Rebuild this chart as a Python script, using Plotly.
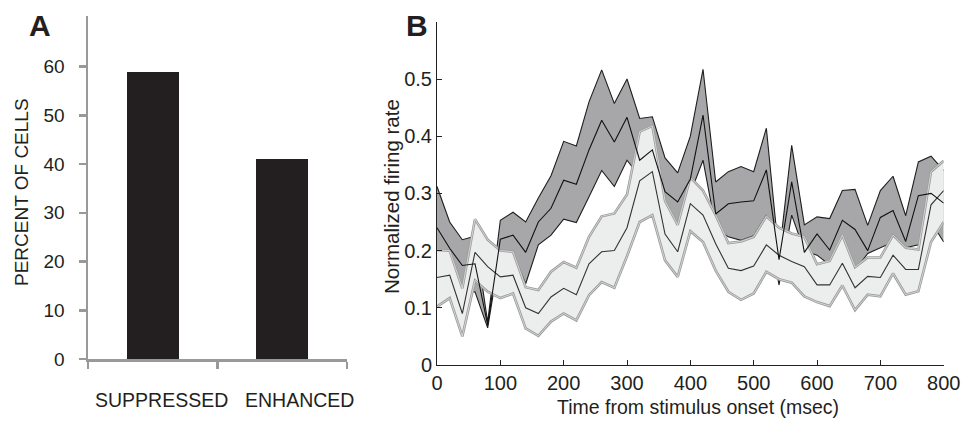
import plotly.graph_objects as go

# ---------------- Panel A data ----------------
categories = ["SUPPRESSED", "ENHANCED"]
cat_pos = [0.5, 1.5]
percent_cells = [59, 41]

# ---------------- Panel B data ----------------
time_ms = list(range(0, 801, 20))

dark_upper = [0.312, 0.25, 0.219, 0.225, 0.075, 0.253, 0.267, 0.25, 0.292, 0.331,
              0.391, 0.383, 0.46, 0.516, 0.457, 0.5, 0.431, 0.434, 0.362, 0.336,
              0.4, 0.517, 0.32, 0.338, 0.347, 0.338, 0.414, 0.19, 0.384, 0.245,
              0.259, 0.256, 0.305, 0.307, 0.244, 0.305, 0.33, 0.261, 0.355, 0.365, 0.34]
dark_mean = [0.24, 0.204, 0.174, 0.177, 0.07, 0.22, 0.227, 0.197, 0.25, 0.274,
             0.323, 0.316, 0.376, 0.428, 0.39, 0.433, 0.358, 0.376, 0.303, 0.285,
             0.325, 0.437, 0.264, 0.282, 0.285, 0.287, 0.341, 0.184, 0.32, 0.197,
             0.229, 0.201, 0.253, 0.237, 0.2, 0.258, 0.27, 0.216, 0.296, 0.3, 0.283]
dark_lower = [0.2, 0.19, 0.125, 0.128, 0.065, 0.2, 0.195, 0.142, 0.21, 0.227,
              0.255, 0.249, 0.294, 0.34, 0.312, 0.358, 0.33, 0.33, 0.25, 0.23,
              0.3, 0.358, 0.24, 0.224, 0.218, 0.226, 0.262, 0.14, 0.262, 0.2,
              0.192, 0.175, 0.2, 0.165, 0.195, 0.205, 0.215, 0.205, 0.21, 0.25, 0.215]

light_upper = [0.201, 0.2, 0.134, 0.255, 0.219, 0.2, 0.198, 0.136, 0.131, 0.163,
               0.18, 0.17, 0.224, 0.26, 0.265, 0.298, 0.408, 0.418, 0.287, 0.245,
               0.328, 0.305, 0.262, 0.213, 0.216, 0.224, 0.26, 0.24, 0.23, 0.224,
               0.176, 0.182, 0.227, 0.171, 0.188, 0.188, 0.227, 0.205, 0.202, 0.338, 0.357]
light_mean = [0.153, 0.157, 0.09, 0.197, 0.172, 0.154, 0.157, 0.1, 0.09, 0.119,
              0.134, 0.123, 0.177, 0.198, 0.2, 0.24, 0.322, 0.338, 0.229, 0.198,
              0.282, 0.262, 0.212, 0.169, 0.165, 0.173, 0.21, 0.192, 0.181, 0.172,
              0.14, 0.14, 0.178, 0.135, 0.155, 0.153, 0.192, 0.167, 0.167, 0.28, 0.305]
light_lower = [0.102, 0.117, 0.05, 0.148, 0.128, 0.117, 0.125, 0.064, 0.051, 0.076,
               0.09, 0.078, 0.122, 0.145, 0.135, 0.19, 0.25, 0.262, 0.183, 0.154,
               0.234, 0.215, 0.165, 0.128, 0.114, 0.125, 0.163, 0.15, 0.144, 0.12,
               0.11, 0.103, 0.139, 0.096, 0.123, 0.12, 0.16, 0.123, 0.129, 0.215, 0.25]

a_yticks = [0, 10, 20, 30, 40, 50, 60]
b_xticks = [0, 100, 200, 300, 400, 500, 600, 700, 800]
b_yticks = [0, 0.1, 0.2, 0.3, 0.4, 0.5]
b_yticklabels = ["0", "0.1", "0.2", "0.3", "0.4", "0.5"]

FONT = "Liberation Sans, Arial, sans-serif"
TXT = "#231f20"
W, H = 965, 422

fig = go.Figure()

# Panel A bars
fig.add_trace(go.Bar(x=cat_pos, y=percent_cells, width=0.4,
                     marker=dict(color=TXT, line=dict(width=0)),
                     xaxis="x", yaxis="y", showlegend=False, hoverinfo="skip"))

# Panel B: dark band
fig.add_trace(go.Scatter(x=time_ms + time_ms[::-1], y=dark_upper + dark_lower[::-1],
                         fill="toself", fillcolor="#a7a7aa", mode="lines",
                         line=dict(width=0), xaxis="x2", yaxis="y2",
                         showlegend=False, hoverinfo="skip"))
for series in (dark_upper, dark_lower):
    fig.add_trace(go.Scatter(x=time_ms, y=series, mode="lines",
                             line=dict(color="#1e1e1e", width=1.1),
                             xaxis="x2", yaxis="y2", showlegend=False, hoverinfo="skip"))

# Panel B: light band (drawn over the dark one)
fig.add_trace(go.Scatter(x=time_ms + time_ms[::-1], y=light_upper + light_lower[::-1],
                         fill="toself", fillcolor="#eceeed", mode="lines",
                         line=dict(width=0), xaxis="x2", yaxis="y2",
                         showlegend=False, hoverinfo="skip"))
for series in (light_upper, light_lower):
    fig.add_trace(go.Scatter(x=time_ms, y=series, mode="lines",
                             line=dict(color="#9c9c9c", width=2.6),
                             xaxis="x2", yaxis="y2", showlegend=False, hoverinfo="skip"))
    fig.add_trace(go.Scatter(x=time_ms, y=series, mode="lines",
                             line=dict(color="#e2e2e2", width=0.8),
                             xaxis="x2", yaxis="y2", showlegend=False, hoverinfo="skip"))

# mean lines on top
fig.add_trace(go.Scatter(x=time_ms, y=light_mean, mode="lines",
                         line=dict(color="#333333", width=1.1),
                         xaxis="x2", yaxis="y2", showlegend=False, hoverinfo="skip"))
fig.add_trace(go.Scatter(x=time_ms, y=dark_mean, mode="lines",
                         line=dict(color="#111111", width=1.1),
                         xaxis="x2", yaxis="y2", showlegend=False, hoverinfo="skip"))

def px_x(p):
    return p / W

def px_y(p):
    return (H - p) / H

gray = "#999999"
fig.update_layout(
    width=W, height=H,
    margin=dict(l=0, r=0, t=0, b=0, autoexpand=False),
    paper_bgcolor="white", plot_bgcolor="white",
    font=dict(family=FONT, color=TXT, size=18),
    bargap=0,
    hovermode=False,
    xaxis=dict(domain=[px_x(88), px_x(347)], range=[0, 2], automargin=False,
               tickvals=[0, 1, 2], showticklabels=False,
               ticks="outside", ticklen=7, tickwidth=2.5, tickcolor=gray,
               showline=True, linecolor=gray, linewidth=2.5,
               showgrid=False, zeroline=False, fixedrange=True),
    yaxis=dict(domain=[px_y(359), px_y(16)], range=[0, 70.4], automargin=False,
               tickvals=a_yticks, ticks="outside", ticklen=7, tickwidth=2.5,
               tickcolor=gray, showline=True, linecolor=gray, linewidth=2.5,
               tickfont=dict(size=19, family=FONT, color=TXT),
               ticklabelstandoff=10,
               showgrid=False, zeroline=False, fixedrange=True),
    xaxis2=dict(domain=[px_x(437), px_x(943.7)], range=[0, 800], automargin=False,
                tickvals=b_xticks, ticks="inside", ticklen=5, tickwidth=1,
                tickcolor="#222222", showline=True, linecolor="#222222", linewidth=1,
                tickfont=dict(size=20, family=FONT, color=TXT),
                showgrid=False, zeroline=False, fixedrange=True, anchor="y2"),
    yaxis2=dict(domain=[px_y(365), px_y(21.8)], range=[0, 0.6], automargin=False,
                tickvals=b_yticks, ticktext=b_yticklabels,
                ticks="inside", ticklen=5, tickwidth=1,
                tickcolor="#222222", showline=True, linecolor="#222222", linewidth=1,
                tickfont=dict(size=20, family=FONT, color=TXT),
                showgrid=False, zeroline=False, fixedrange=True, anchor="x2"),
)

def label(text, x, y, size, angle=0, xref="paper", xshift=0, bold=False):
    return dict(text=f"<b>{text}</b>" if bold else text, x=x, y=y, xref=xref, yref="paper",
                xanchor="center", yanchor="middle", xshift=xshift, textangle=angle,
                showarrow=False, font=dict(size=size, family=FONT, color=TXT))

ann = [
    label("A", px_x(40), px_y(25), 30, bold=True),
    label("B", px_x(417), px_y(26), 30, bold=True),
    label("PERCENT OF CELLS", px_x(21), px_y(192), 19, angle=-90),
    label("Normalized firing rate", px_x(391), px_y(197), 20.5, angle=-90),
    label("Time from stimulus onset (msec)", px_x(698), px_y(407), 19.5),
]
for name, pos, shift in zip(categories, cat_pos, [9, 17]):
    ann.append(label(name, pos, px_y(400), 19.5, xref="x", xshift=shift))
fig.update_layout(annotations=ann)

fig.write_html("out.html",
               config={"displayModeBar": False, "staticPlot": True},
               post_script="document.body.style.margin='0px';"
                           "document.body.style.overflow='hidden';")
